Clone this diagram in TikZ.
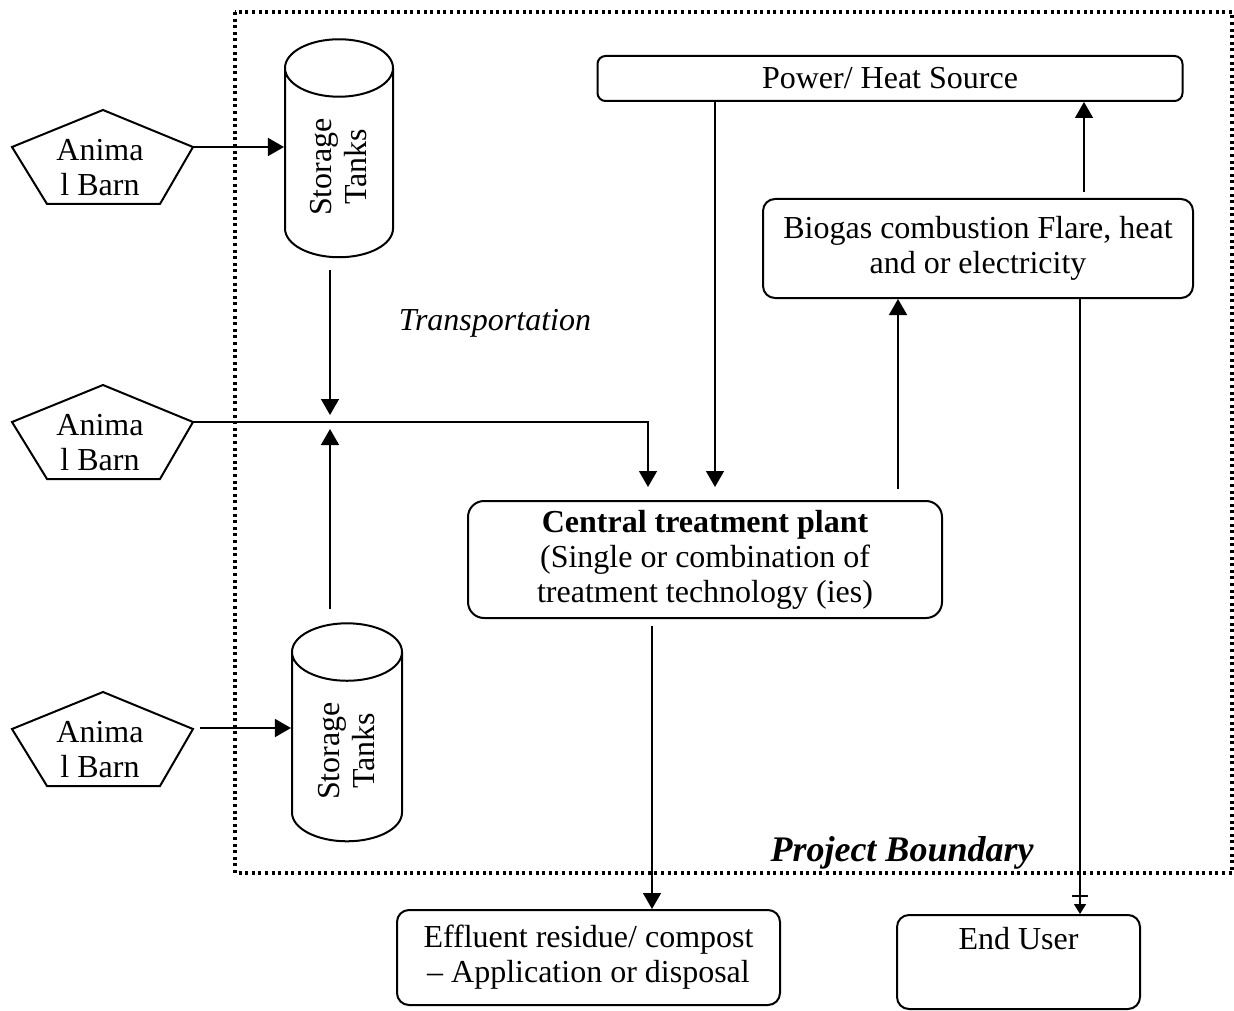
\documentclass[tikz,border=0pt]{standalone}
\usepackage{fontspec}
\setmainfont{Liberation Serif}
\usetikzlibrary{shapes.geometric,arrows.meta,calc}

\begin{document}
\begin{tikzpicture}[x=0.5pt,y=-0.5pt,
    font=\fontsize{16}{17.5}\selectfont,
    box/.style={draw,line width=1pt,rounded corners=6pt,align=center,inner sep=2pt},
    tank/.style={draw,line width=1pt,cylinder,rotate=90,aspect=0.95,minimum width=54pt,minimum height=109pt,align=center,inner sep=1pt},
    barn/.style={align=center},
    arr/.style={line width=0.75pt,-{Triangle[length=8pt,width=9pt]}}]
  \useasboundingbox (0,0) rectangle (1234,1010);
  % project boundary
  \draw[line width=1.6pt,dash pattern=on 1.5pt off 1.8pt] (235,12) rectangle (1232,873);
  \node[font=\fontsize{18}{20}\selectfont\bfseries\itshape] (pb) at (902,853) {Project Boundary};

  % barns
  \node[barn] (b1) at (100,168) {Anima\\l Barn};
  \node[barn] (b2) at (100,443) {Anima\\l Barn};
  \node[barn] (b3) at (100,750) {Anima\\l Barn};
  \foreach \b in {b1,b2,b3}
    \draw[line width=1pt] ([shift={(3,-58)}]\b.center) -- ([shift={(-88,-21)}]\b.center) -- ([shift={(-53,36)}]\b.center) -- ([shift={(60,36)}]\b.center) -- ([shift={(93,-21)}]\b.center) -- cycle;

  % tanks
  \node[tank] (tank1) at (339,167) {Storage\\Tanks};
  \node[tank,minimum width=55pt] (tank2) at (347,751) {Storage\\Tanks};
  \node[font=\fontsize{16}{17.5}\selectfont\itshape] (trans) at (495,323) {Transportation};

  % boxes
  \node[box,rounded corners=4pt,minimum width=292.5pt,minimum height=22.5pt] (power) at (890,78.5) {Power/ Heat Source};
  \node[box,minimum width=215pt,minimum height=49.5pt] (bio) at (978,248.5) {Biogas combustion Flare, heat\\and or electricity};
  \node[box,rounded corners=8pt,minimum width=237pt,minimum height=58.5pt] (plant) at (705,559.5) {\textbf{Central treatment plant}\\(Single or combination of\\treatment technology (ies)};
  \node[box,minimum width=191.5pt,minimum height=47.5pt] (eff) at (588.5,957.5) {Effluent residue/ compost\\– Application or disposal};
  \node[box,text height=15pt,text depth=28pt,minimum width=121.5pt] (user) at (1018.5,962) {End User};

  % flows
  \draw[arr] ([shift={(93,-21)}]b1.center) coordinate (v1) -- (v1 -| tank1.north);
  \draw[arr] ([shift={(100,-22)}]b3.center) coordinate (v3) -- (v3 -| tank2.north);
  \draw[arr] ([shift={(93,-21)}]b2.center) coordinate (v2) -| ([shift={(-57,-13)}]plant.north);
  \draw[arr] ([shift={(-9,12)}]tank1.west) coordinate (t1) -- ($(t1 |- v2)+(0,-7)$);
  \draw[arr] ([shift={(-17,-13)}]tank2.east) coordinate (t2) -- ($(t2 |- v2)+(0,7)$);
  \draw[arr] ([shift={(-175,0)}]power.south) -- ([shift={(10,-13)}]plant.north);
  \draw[arr] ([shift={(193,-11)}]plant.north) coordinate (p1) -- (p1 |- bio.south);
  \draw[arr] ([shift={(106,-6)}]bio.north) coordinate (p2) -- (p2 |- power.south);
  \draw[arr,-{Triangle[length=5pt,width=6pt]}] ([shift={(102,0)}]bio.south) coordinate (p3) -- (p3 |- user.north);
  \draw[line width=0.75pt] ($(p3 |- user.north)+(-8,-18)$) -- ++(16,0);
  \draw[arr] ([shift={(-53,7)}]plant.south) coordinate (p4) -- (p4 |- eff.north);
\end{tikzpicture}
\end{document}
